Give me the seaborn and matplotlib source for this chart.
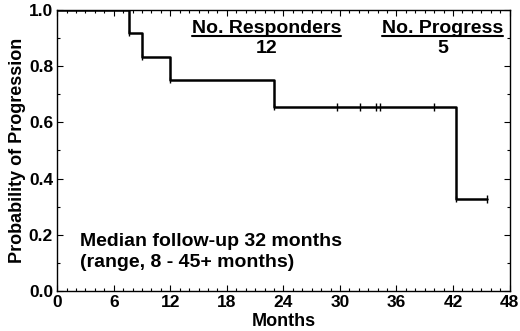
import matplotlib
matplotlib.use("Agg")
import matplotlib.pyplot as plt
import seaborn as sns
from matplotlib.ticker import MultipleLocator

# Kaplan-Meier step data
event_months = [0, 7.6, 9.0, 12.0, 23.0, 42.3, 45.6]
prob_progression = [1.0, 0.917, 0.833, 0.75, 0.656, 0.328, 0.328]

# censored observations
censor_months = [29.7, 32.1, 33.8, 34.2, 40.0, 45.6]
censor_prob = [0.656, 0.656, 0.656, 0.656, 0.656, 0.328]

n_responders = 12
n_progress = 5

sns.set_style("ticks", {'axes.edgecolor': 'black', 'text.color': 'black',
                        'axes.labelcolor': 'black', 'xtick.color': 'black',
                        'ytick.color': 'black'})
plt.rcParams['font.family'] = ['Liberation Sans', 'DejaVu Sans']
plt.rcParams['font.weight'] = 'bold'

fig = plt.figure(figsize=(5.2, 3.31), dpi=100)
ax = fig.add_axes([0.110, 0.121, 0.870, 0.849])

sns.lineplot(x=event_months, y=prob_progression, drawstyle='steps-post',
             estimator=None, color='black', linewidth=1.8, ax=ax)
# small marks at the event corners and at censored times
sns.scatterplot(x=event_months[1:-1], y=prob_progression[1:-1], marker='|',
                s=25, color='black', linewidth=1, ax=ax)
sns.scatterplot(x=censor_months, y=censor_prob, marker='|',
                s=35, color='black', linewidth=1, ax=ax)

ax.set_xlim(0, 48)
ax.set_ylim(0, 1.0)
ax.xaxis.set_major_locator(MultipleLocator(6))
ax.xaxis.set_minor_locator(MultipleLocator(1))
ax.yaxis.set_major_locator(MultipleLocator(0.2))
ax.yaxis.set_minor_locator(MultipleLocator(0.1))
ax.yaxis.set_major_formatter(plt.FormatStrFormatter('%.1f'))
ax.tick_params(which='both', direction='in', top=True, right=True,
               labelsize=12.5, width=0.8)
ax.tick_params(which='major', length=4, pad=3)
ax.tick_params(which='minor', length=2)
for s in ax.spines.values():
    s.set_linewidth(1.0)

ax.set_xlabel("Months", fontsize=13, fontweight='bold', labelpad=2)
ax.set_ylabel("Probability of Progression", fontsize=13, fontweight='bold', labelpad=2)

ax.text(22.2, 0.918, "No. Responders", ha='center', va='baseline', fontsize=14, fontweight='bold')
ax.text(22.2, 0.847, str(n_responders), ha='center', va='baseline', fontsize=14, fontweight='bold')
ax.text(40.9, 0.918, "No. Progress", ha='center', va='baseline', fontsize=14, fontweight='bold')
ax.text(40.9, 0.847, str(n_progress), ha='center', va='baseline', fontsize=14, fontweight='bold')
# underlines
ax.plot([14.3, 30.1], [0.906, 0.906], color='black', linewidth=1.5)
ax.plot([34.5, 47.3], [0.906, 0.906], color='black', linewidth=1.5)

ax.text(2.4, 0.160, "Median follow-up 32 months", ha='left', va='baseline', fontsize=14, fontweight='bold')
ax.text(2.4, 0.085, "(range, 8 - 45+ months)", ha='left', va='baseline', fontsize=14, fontweight='bold')

fig.savefig("out.png", dpi=100)
